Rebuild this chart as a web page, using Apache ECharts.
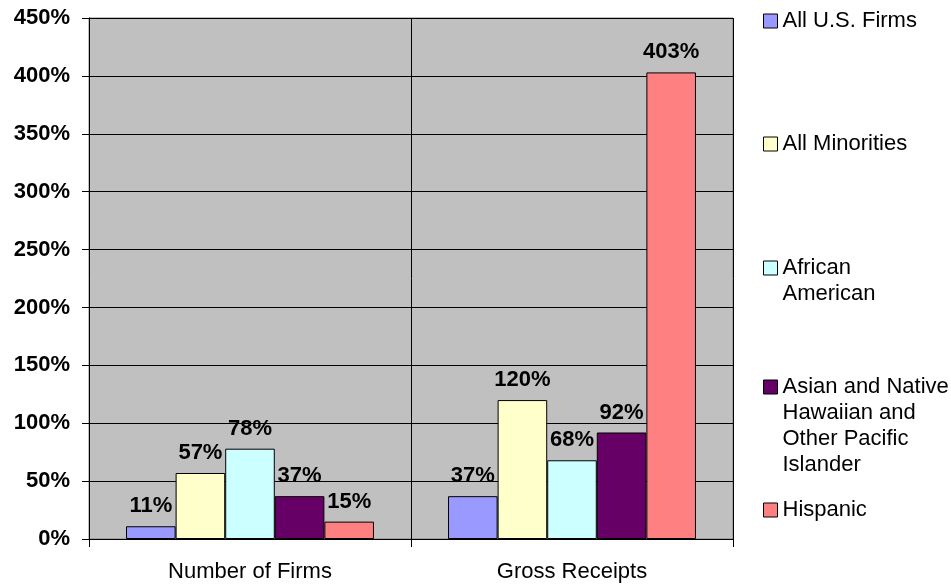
<!DOCTYPE html>
<html>
<head>
<meta charset="utf-8">
<script src="https://cdn.jsdelivr.net/npm/echarts@6/dist/echarts.min.js"></script>
<style>
html,body{margin:0;padding:0;background:#fff;}
#chart{width:951px;height:584px;}
</style>
</head>
<body>
<div id="chart"></div>
<script>
const categories = ['Number of Firms', 'Gross Receipts'];
const seriesNames = ['All U.S. Firms', 'All Minorities', 'African American', 'Asian and Native Hawaiian and Other Pacific Islander', 'Hispanic'];
const legendLabels = ['All U.S. Firms', 'All Minorities', 'African\nAmerican', 'Asian and Native\nHawaiian and\nOther Pacific\nIslander', 'Hispanic'];
const allUSFirms = [11, 37];
const allMinorities = [57, 120];
const africanAmerican = [78, 68];
const asianPacific = [37, 92];
const hispanic = [15, 403];
const seriesValues = [allUSFirms, allMinorities, africanAmerican, asianPacific, hispanic];
const seriesColors = ['#9999FF', '#FFFFCC', '#CCFFFF', '#660066', '#FF8080'];
const yTicks = [0, 50, 100, 150, 200, 250, 300, 350, 400, 450];

const FONT = "'Liberation Sans', Arial, sans-serif";
const legendCenters = [21, 144, 268, 387, 510];
const LH = 26;

const chart = echarts.init(document.getElementById('chart'));
const legends = seriesNames.map((n, i) => {
  const lines = legendLabels[i].split('\n').length;
  // prepend empty lines so the first text line sits level with the icon
  const text = '\n'.repeat(lines - 1) + legendLabels[i];
  return {
    data: [n],
    orient: 'vertical',
    left: 763,
    top: legendCenters[i] - (2 * lines - 1) * LH / 2,
    padding: 0,
    icon: 'rect',
    itemWidth: 14,
    itemHeight: 14,
    selectedMode: false,
    itemStyle: { borderColor: '#000', borderWidth: 1 },
    formatter: () => text,
    textStyle: { fontSize: 22, lineHeight: LH, fontFamily: FONT, color: '#000' }
  };
});

chart.setOption({
  backgroundColor: '#fff',
  animation: false,
  textStyle: { fontFamily: FONT },
  legend: legends,
  grid: {
    left: 89, right: 218, top: 18, bottom: 45,
    show: true, backgroundColor: '#C0C0C0', borderColor: '#808080', borderWidth: 1
  },
  xAxis: {
    type: 'category',
    data: categories,
    axisLine: { lineStyle: { color: '#000', width: 1 } },
    axisTick: { show: true, length: 8, alignWithLabel: false, lineStyle: { color: '#000' } },
    axisLabel: { fontSize: 22, color: '#000', fontFamily: FONT, margin: 22 },
    splitLine: { show: true, lineStyle: { color: '#000', width: 1 } }
  },
  yAxis: {
    type: 'value',
    min: yTicks[0],
    max: yTicks[yTicks.length - 1],
    interval: 50,
    axisLine: { show: true, lineStyle: { color: '#000', width: 1 } },
    axisTick: { show: true, length: 7, lineStyle: { color: '#000' } },
    axisLabel: { fontSize: 22, fontWeight: 'bold', color: '#000', fontFamily: FONT, margin: 19, formatter: '{value}%' },
    splitLine: { show: true, lineStyle: { color: '#000', width: 1 } }
  },
  series: seriesNames.map((n, i) => ({
    name: n,
    type: 'bar',
    data: seriesValues[i],
    barGap: '0%',
    barCategoryGap: '23%',
    itemStyle: { color: seriesColors[i], borderColor: '#000', borderWidth: 1 },
    label: {
      show: true, position: 'top', distance: 9,
      formatter: '{c}%', fontSize: 22, fontWeight: 'bold', color: '#000', fontFamily: FONT
    }
  }))
});
</script>
</body>
</html>
